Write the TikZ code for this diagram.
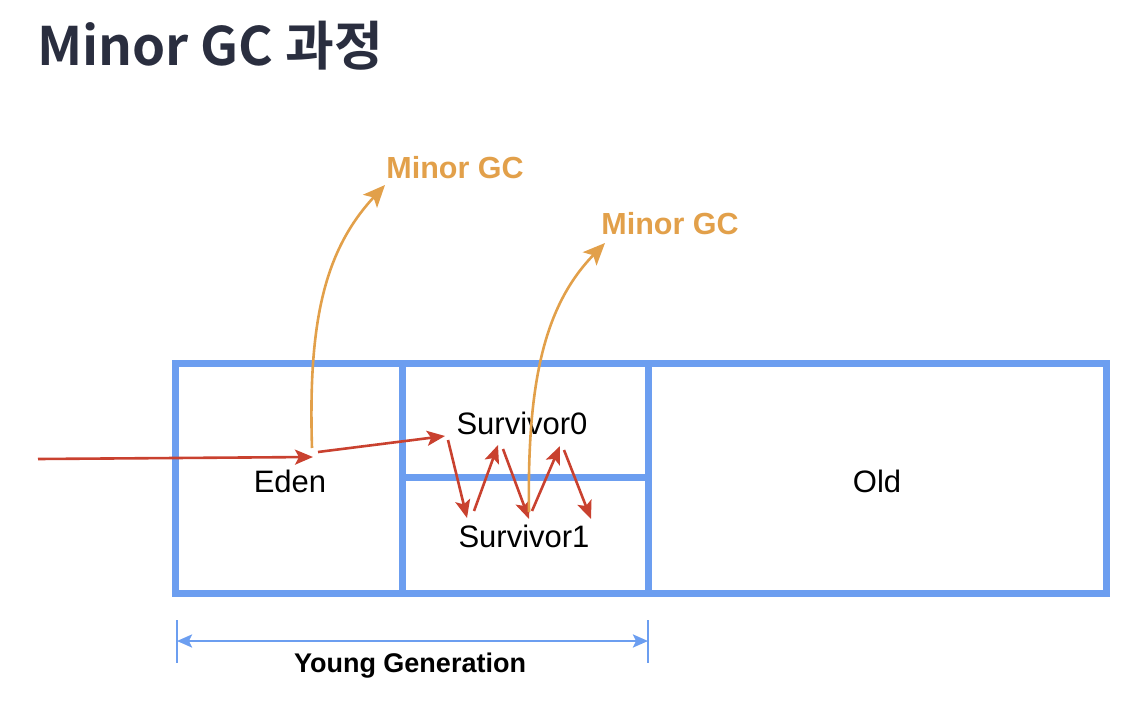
\documentclass[tikz,border=0pt]{standalone}
\usepackage{fontspec}
\setmainfont{Liberation Sans}
\newfontfamily\krfont{Noto Sans CJK KR}[BoldFont={* Bold}]
\usetikzlibrary{arrows.meta}
\definecolor{boxblue}{HTML}{6C9EF0}
\definecolor{redarr}{HTML}{C9412F}
\definecolor{orangearr}{HTML}{E2A04A}
\definecolor{titlecol}{HTML}{2A2E3F}
\tikzset{
  wall/.style={draw=boxblue, line width=7pt},
  redline/.style={draw=redarr, line width=2.6pt, -{Stealth[length=18pt,width=15pt,inset=4pt]}},
  orangeline/.style={draw=orangearr, line width=2.6pt, -{Stealth[length=22pt,width=19pt,inset=5pt]}},
  celllabel/.style={font=\fontsize{31}{34}\selectfont, text=black, inner sep=0pt},
  gclabel/.style={font=\fontsize{30.5}{34}\selectfont\bfseries, text=orangearr, inner sep=0pt},
}
\begin{document}
\begin{tikzpicture}[x=1pt,y=-1pt]
\useasboundingbox (0,0) rectangle (1146,706);
% title
\node[anchor=base west, inner sep=0pt, text=titlecol, font=\krfont\fontsize{53}{58}\selectfont\bfseries] (title) at (37,66) {Minor GC 과정};
% memory boxes
\draw[wall] (175,363) rectangle (1106,593);
\draw[wall] (402,363) -- (402,593);
\draw[wall] (648,363) -- (648,593);
\draw[wall] (402,477) -- (648,477);
% labels
\node[celllabel] (eden) at (290,481) {Eden};
\node[celllabel] (s0) at (522,423) {Survivor0};
\node[celllabel] (s1) at (524,536) {Survivor1};
\node[celllabel] (old) at (877,481) {Old};
\node[gclabel] (gc1) at (455,168) {Minor GC};
\node[gclabel] (gc2) at (670,224) {Minor GC};
% arrow coordinates
\coordinate (in) at (38,459);
\coordinate (e1) at (313,457);
\coordinate (e2) at (318,452);
\coordinate (z0) at (445,436);
\coordinate (z0b) at (448,440);
\coordinate (z1) at (467,518);
\coordinate (z1b) at (474,511);
\coordinate (z2) at (498,445);
\coordinate (z2b) at (503,449);
\coordinate (z3) at (529,519);
\coordinate (z3b) at (532,511);
\coordinate (z4) at (560,446);
\coordinate (z4b) at (564,450);
\coordinate (z5) at (591,519);
% red arrows
\draw[redline] (in) -- (e1);
\draw[redline] (e2) -- (z0);
\draw[redline] (z0b) -- (z1);
\draw[redline] (z1b) -- (z2);
\draw[redline] (z2b) -- (z3);
\draw[redline] (z3b) -- (z4);
\draw[redline] (z4b) -- (z5);
% orange arrows
\coordinate (o1s) at (312,448);
\coordinate (o1e) at (385,185);
\coordinate (o2s) at (529,512);
\coordinate (o2e) at (605,243);
\draw[orangeline] (o1s) .. controls (308,320) and (325,250) .. (o1e);
\draw[orangeline] (o2s) .. controls (527,380) and (545,305) .. (o2e);
% young generation
\coordinate (ygl) at (177,641);
\coordinate (ygr) at (648,641);
\draw[boxblue, line width=2.5pt] (177,620) -- (177,663);
\draw[boxblue, line width=2.5pt] (648,620) -- (648,663);
\draw[boxblue, line width=2.5pt, {Stealth[length=15pt,width=13pt,inset=3pt]}-{Stealth[length=15pt,width=13pt,inset=3pt]}] (ygl) -- (ygr);
\node[inner sep=0pt, font=\fontsize{27}{30}\selectfont\bfseries] (yg) at (410,666) {Young Generation};
\end{tikzpicture}
\end{document}
